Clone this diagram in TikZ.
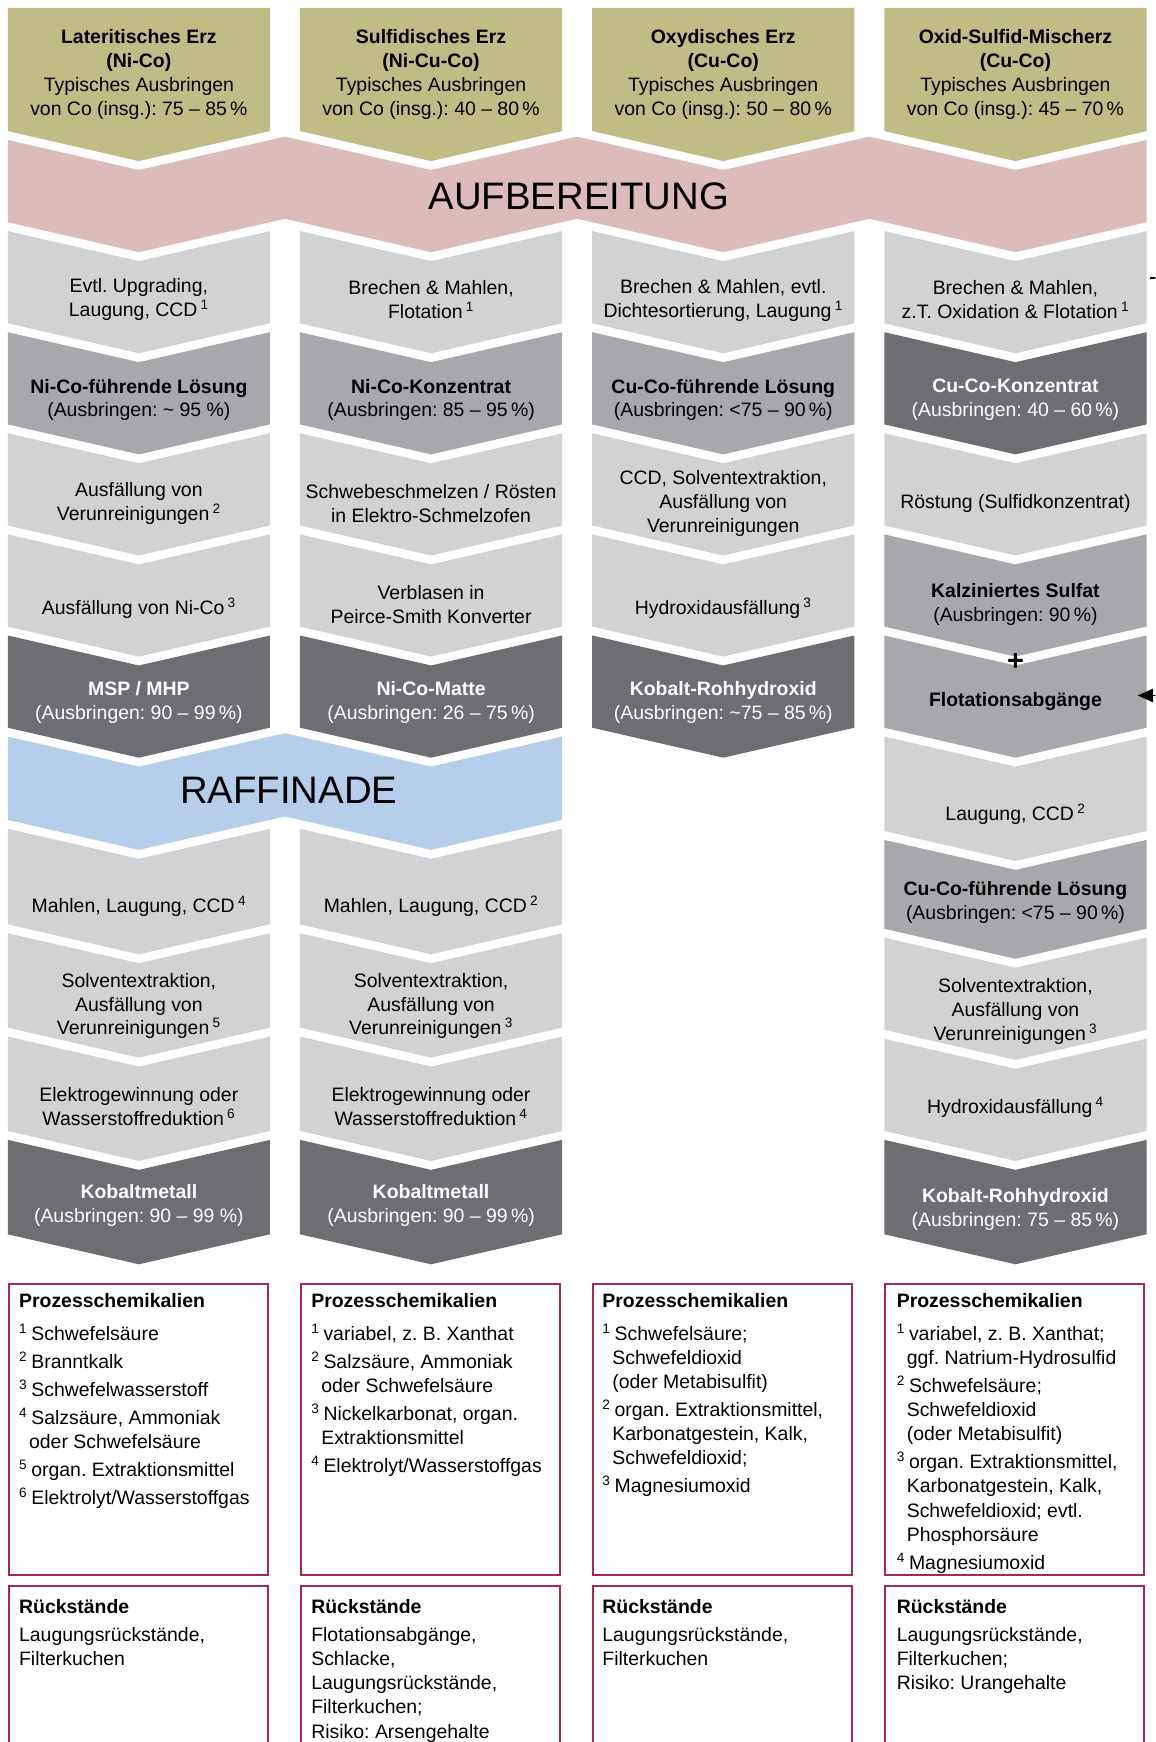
\documentclass[tikz,border=0pt]{standalone}
\usepackage{fontspec}
\setmainfont{Liberation Sans}
\usetikzlibrary{arrows.meta}
\frenchspacing

\definecolor{ore}{RGB}{192,188,134}
\definecolor{prep}{RGB}{221,187,187}
\definecolor{refine}{RGB}{181,206,235}
\definecolor{stepl}{RGB}{209,210,212}
\definecolor{stepm}{RGB}{167,168,171}
\definecolor{stepd}{RGB}{109,110,114}
\definecolor{boxred}{RGB}{166,42,74}

% chevron: left x, top y, bottom y, colour
\newcommand{\chev}[4]{\fill[#4] (#1,#2) -- ++(118,27) -- ++(118,-27) -- ++(0,#3-#2) -- ++(-118,27) -- ++(-118,-27) -- cycle;}
% ore header with flat top
\newcommand{\orebox}[1]{\fill[ore] (#1,7) -- ++(236,0) -- ++(0,111) -- ++(-118,27) -- ++(-118,-27) -- cycle;}
\newcommand{\chem}[1]{\,\textsuperscript{#1}}
\newcommand{\fn}[1]{\makebox[11pt][l]{\textsuperscript{#1}}}
\newcommand{\cont}{\hspace*{9pt}}

\tikzset{
  lbl/.style={align=center, inner sep=0pt, yshift=-2.5pt, font=\fontsize{17.5}{21.5}\selectfont},
  lblw/.style={lbl, text=white},
  bandlbl/.style={inner sep=0pt, font=\fontsize{34.5}{40}\selectfont},
  note/.style={align=left, anchor=north west, inner sep=0pt, yshift=-1pt, font=\fontsize{17.5}{21.7}\selectfont},
  notebox/.style={draw=boxred, line width=1.8pt},
  flow/.style={line width=1.6pt, -{Triangle[length=14pt,width=12pt]}}
}

\begin{document}
\begin{tikzpicture}[x=1pt, y=-1pt]
  \useasboundingbox (0,0) rectangle (1040,1568);
  \clip (0,0) rectangle (1040,1568);

  % ore types
  \orebox{7} \orebox{270} \orebox{533} \orebox{796}
  \node[lbl] (oa) at (125,64.5) {\textbf{Lateritisches Erz}\\\textbf{(Ni-Co)}\\Typisches Ausbringen\\von Co (insg.): 75 – 85\,\%};
  \node[lbl] (ob) at (388,64.5) {\textbf{Sulfidisches Erz}\\\textbf{(Ni-Cu-Co)}\\Typisches Ausbringen\\von Co (insg.): 40 – 80\,\%};
  \node[lbl] (oc) at (651,64.5) {\textbf{Oxydisches Erz}\\\textbf{(Cu-Co)}\\Typisches Ausbringen\\von Co (insg.): 50 – 80\,\%};
  \node[lbl] (od) at (914,64.5) {\textbf{Oxid-Sulfid-Mischerz}\\\textbf{(Cu-Co)}\\Typisches Ausbringen\\von Co (insg.): 45 – 70\,\%};

  % Aufbereitung band
  \fill[prep] (7,126) -- (125,153) -- (243,126) -- (256.5,123) -- (270,126) -- (388,153) -- (506,126)
    -- (519.5,123) -- (533,126) -- (651,153) -- (769,126) -- (782.5,123) -- (796,126) -- (914,153) -- (1032,126)
    -- (1032,200) -- (914,227) -- (796,200) -- (782.5,197) -- (769,200) -- (651,227) -- (533,200)
    -- (519.5,197) -- (506,200) -- (388,227) -- (270,200) -- (256.5,197) -- (243,200) -- (125,227) -- (7,200) -- cycle;
  \node[bandlbl] (prep) at (521,177) {AUFBEREITUNG};

  % column 1
  \chev{7}{208}{291}{stepl}
  \chev{7}{299}{382}{stepm}
  \chev{7}{390}{473}{stepl}
  \chev{7}{481}{564}{stepl}
  \chev{7}{572}{655}{stepd}
  \node[lbl] (a1) at (125,267) {Evtl. Upgrading,\\Laugung, CCD\chem{1}};
  \node[lbl] (a2) at (125,357.5) {\textbf{Ni-Co-führende Lösung}\\(Ausbringen: \textasciitilde\ 95 \%)};
  \node[lbl] (a3) at (125,450.5) {Ausfällung von\\Verunreinigungen\chem{2}};
  \node[lbl] (a4) at (125,545) {Ausfällung von Ni-Co\chem{3}};
  \node[lblw] (a5) at (125,630) {\textbf{MSP / MHP}\\(Ausbringen: 90 – 99\,\%)};

  % column 2
  \chev{270}{208}{291}{stepl}
  \chev{270}{299}{382}{stepm}
  \chev{270}{390}{473}{stepl}
  \chev{270}{481}{564}{stepl}
  \chev{270}{572}{655}{stepd}
  \node[lbl] (b1) at (388,267) {Brechen \& Mahlen,\\Flotation\chem{1}};
  \node[lbl] (b2) at (388,357.5) {\textbf{Ni-Co-Konzentrat}\\(Ausbringen: 85 – 95\,\%)};
  \node[lbl] (b3) at (388,450.5) {Schwebeschmelzen / Rösten\\in Elektro-Schmelzofen};
  \node[lbl] (b4) at (388,541.5) {Verblasen in\\Peirce-Smith Konverter};
  \node[lblw] (b5) at (388,630) {\textbf{Ni-Co-Matte}\\(Ausbringen: 26 – 75\,\%)};

  % column 3
  \chev{533}{208}{291}{stepl}
  \chev{533}{299}{382}{stepm}
  \chev{533}{390}{473}{stepl}
  \chev{533}{481}{564}{stepl}
  \chev{533}{572}{655}{stepd}
  \node[lbl] (c1) at (651,268) {Brechen \& Mahlen, evtl.\\Dichtesortierung, Laugung\chem{1}};
  \node[lbl] (c2) at (651,357.5) {\textbf{Cu-Co-führende Lösung}\\(Ausbringen: <75 – 90\,\%)};
  \node[lbl] (c3) at (651,450.5) {CCD, Solventextraktion,\\Ausfällung von\\Verunreinigungen};
  \node[lbl] (c4) at (651,545) {Hydroxidausfällung\chem{3}};
  \node[lblw] (c5) at (651,630) {\textbf{Kobalt-Rohhydroxid}\\(Ausbringen: \textasciitilde 75 – 85\,\%)};

  % column 4
  \chev{796}{208}{291}{stepl}
  \chev{796}{299}{382}{stepd}
  \chev{796}{390}{473}{stepl}
  \chev{796}{481}{564}{stepm}
  \chev{796}{572}{655}{stepm}
  \chev{796}{663}{748}{stepl}
  \chev{796}{756}{836}{stepm}
  \chev{796}{844}{927}{stepl}
  \chev{796}{935}{1018}{stepl}
  \chev{796}{1026}{1111}{stepd}
  \node[lbl] (d1) at (914,267) {Brechen \& Mahlen,\\z.T. Oxidation \& Flotation\chem{1}};
  \node[lblw] (d2) at (914,357.5) {\textbf{Cu-Co-Konzentrat}\\(Ausbringen: 40 – 60\,\%)};
  \node[lbl] (d3) at (914,451) {Röstung (Sulfidkonzentrat)};
  \node[lbl] (d4) at (914,541.5) {\textbf{Kalziniertes Sulfat}\\(Ausbringen: 90\,\%)};
  \node[lbl, font=\fontsize{26}{26}\selectfont\bfseries] (plus) at (914,593) {+};
  \node[lbl] (d5) at (914,629) {\textbf{Flotationsabgänge}};
  \node[lbl] (d6) at (914,730) {Laugung, CCD\chem{2}};
  \node[lbl] (d7) at (914,809.5) {\textbf{Cu-Co-führende Lösung}\\(Ausbringen: <75 – 90\,\%)};
  \node[lbl] (d8) at (914,908) {Solventextraktion,\\Ausfällung von\\Verunreinigungen\chem{3}};
  \node[lbl] (d9) at (914,994) {Hydroxidausfällung\chem{4}};
  \node[lblw] (d10) at (914,1086.5) {\textbf{Kobalt-Rohhydroxid}\\(Ausbringen: 75 – 85\,\%)};

  % tailings fed back into column 4
  \coordinate (stubA) at (1035,250);
  \coordinate (arrB) at (1024,626);
  \draw[flow] (stubA) -- ++(30,0) |- (arrB);

  % Raffinade band
  \fill[refine] (7,663) -- (125,690) -- (243,663) -- (256.5,660) -- (270,663) -- (388,690) -- (506,663)
    -- (506,738) -- (388,765) -- (270,738) -- (256.5,735) -- (243,738) -- (125,765) -- (7,738) -- cycle;
  \node[bandlbl] (refine) at (260,711) {RAFFINADE};

  % refining steps
  \chev{7}{746}{832}{stepl}
  \chev{7}{840}{925}{stepl}
  \chev{7}{933}{1018}{stepl}
  \chev{7}{1026}{1111}{stepd}
  \chev{270}{746}{832}{stepl}
  \chev{270}{840}{925}{stepl}
  \chev{270}{933}{1018}{stepl}
  \chev{270}{1026}{1111}{stepd}
  \node[lbl] (a6) at (125,813) {Mahlen, Laugung, CCD\chem{4}};
  \node[lbl] (a7) at (125,903) {Solventextraktion,\\Ausfällung von\\Verunreinigungen\chem{5}};
  \node[lbl] (a8) at (125,993.5) {Elektrogewinnung oder\\Wasserstoffreduktion\chem{6}};
  \node[lblw] (a9) at (125,1082.5) {\textbf{Kobaltmetall}\\(Ausbringen: 90 – 99 \%)};
  \node[lbl] (b6) at (388,813) {Mahlen, Laugung, CCD\chem{2}};
  \node[lbl] (b7) at (388,903) {Solventextraktion,\\Ausfällung von\\Verunreinigungen\chem{3}};
  \node[lbl] (b8) at (388,993.5) {Elektrogewinnung oder\\Wasserstoffreduktion\chem{4}};
  \node[lblw] (b9) at (388,1082.5) {\textbf{Kobaltmetall}\\(Ausbringen: 90 – 99\,\%)};

  % process chemicals
  \draw[notebox] (8,1156) rectangle (241,1418);
  \draw[notebox] (271,1156) rectangle (504,1418);
  \draw[notebox] (534,1156) rectangle (767,1418);
  \draw[notebox] (797,1156) rectangle (1030,1418);
  \node[note] (pa) at (17,1163) {\textbf{Prozesschemikalien}\\[8pt]
    \fn{1}Schwefelsäure\\[3.5pt]
    \fn{2}Branntkalk\\[3.5pt]
    \fn{3}Schwefelwasserstoff\\[3.5pt]
    \fn{4}Salzsäure, Ammoniak\\\cont oder Schwefelsäure\\[3.5pt]
    \fn{5}organ. Extraktionsmittel\\[3.5pt]
    \fn{6}Elektrolyt/Wasserstoffgas};
  \node[note] (pb) at (280,1163) {\textbf{Prozesschemikalien}\\[8pt]
    \fn{1}variabel, z. B. Xanthat\\[3.5pt]
    \fn{2}Salzsäure, Ammoniak\\\cont oder Schwefelsäure\\[3.5pt]
    \fn{3}Nickelkarbonat, organ.\\\cont Extraktionsmittel\\[3.5pt]
    \fn{4}Elektrolyt/Wasserstoffgas};
  \node[note] (pc) at (542,1163) {\textbf{Prozesschemikalien}\\[8pt]
    \fn{1}Schwefelsäure;\\\cont Schwefeldioxid\\\cont (oder Metabisulfit)\\[3.5pt]
    \fn{2}organ. Extraktionsmittel,\\\cont Karbonatgestein, Kalk,\\\cont Schwefeldioxid;\\[3.5pt]
    \fn{3}Magnesiumoxid};
  \node[note] (pd) at (807,1163) {\textbf{Prozesschemikalien}\\[8pt]
    \fn{1}variabel, z. B. Xanthat;\\\cont ggf. Natrium-Hydrosulfid\\[3.5pt]
    \fn{2}Schwefelsäure;\\\cont Schwefeldioxid\\\cont (oder Metabisulfit)\\[3.5pt]
    \fn{3}organ. Extraktionsmittel,\\\cont Karbonatgestein, Kalk,\\\cont Schwefeldioxid; evtl.\\\cont Phosphorsäure\\[3.5pt]
    \fn{4}Magnesiumoxid};

  % residues
  \draw[notebox] (8,1600) -- (8,1428) -- (241,1428) -- (241,1600);
  \draw[notebox] (271,1600) -- (271,1428) -- (504,1428) -- (504,1600);
  \draw[notebox] (534,1600) -- (534,1428) -- (767,1428) -- (767,1600);
  \draw[notebox] (797,1600) -- (797,1428) -- (1030,1428) -- (1030,1600);
  \node[note] (ra) at (17,1438) {\textbf{Rückstände}\\[4pt]Laugungsrückstände,\\Filterkuchen};
  \node[note] (rb) at (280,1438) {\textbf{Rückstände}\\[4pt]Flotationsabgänge,\\Schlacke,\\Laugungsrückstände,\\Filterkuchen;\\Risiko: Arsengehalte};
  \node[note] (rc) at (542,1438) {\textbf{Rückstände}\\[4pt]Laugungsrückstände,\\Filterkuchen};
  \node[note] (rd) at (807,1438) {\textbf{Rückstände}\\[4pt]Laugungsrückstände,\\Filterkuchen;\\Risiko: Urangehalte};
\end{tikzpicture}
\end{document}
